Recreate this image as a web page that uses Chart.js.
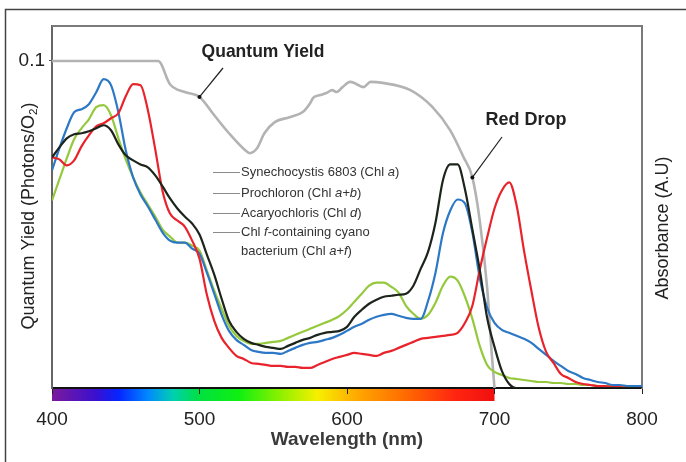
<!DOCTYPE html>
<html>
<head>
<meta charset="utf-8">
<script src="https://cdn.jsdelivr.net/npm/chart.js@4.4.0/dist/chart.umd.min.js"></script>
<style>
  html, body { margin: 0; padding: 0; background: #fff; }
</style>
</head>
<body>
<canvas id="chart" width="686" height="462"></canvas>
<script>
// Absorbance spectra, every 5 nm (arbitrary units, 0..361)
const wavelengths = [];
for (let w = 400; w <= 800; w += 5) wavelengths.push(w);

const synechocystis = [ // Chl a (yellow-green)
  187,208,229,248,259,268,280,282,272,249,
  228,210,195,183,171,158,151,145,145,142,
  137,117,97,79,62,52,47,44,44,45,
  46,47,50,53,56,59,62,65,68,72,
  78,86,94,102,105,105,101,95,82,74,
  69,73,85,102,111,107,91,69,42,23,
  16,13,10,9,8,7,6,6,5,5,
  4,4,3,3,2,2,2,1,1,1,1
];
const prochloron = [ // Chl a+b (black)
  230,240,249,253,254,256,259,262,257,243,
  232,227,223,220,212,201,189,179,171,164,
  153,133,113,89,67,56,49,45,43,41,
  40,39,42,45,48,50,53,55,56,57,
  61,71,78,84,88,91,92,93,94,102,
  119,136,165,207,223,223,198,158,118,70,
  41,17,4,0,0,0,0,0,0,0,
  0,0,0,0,0,0,0,0,0,0,0
];
const acaryochloris = [ // Chl d (red)
  230,228,222,227,241,252,261,264,269,274,
  291,303,302,277,238,196,174,167,161,147,
  129,93,67,50,40,32,29,25,24,23,
  22,22,21,21,20,20,23,26,29,31,
  33,35,34,33,32,35,37,40,43,46,
  49,50,51,52,53,55,65,82,118,150,
  179,197,205,182,137,97,60,36,25,14,
  10,6,4,3,2,2,1,1,0,0,0
];
const chlFBacterium = [ // Chl a+f (blue)
  217,239,259,275,278,283,295,308,302,275,
  237,210,193,181,168,155,147,145,145,139,
  134,115,94,73,57,48,43,38,36,35,
  35,34,37,40,43,45,46,48,50,53,
  57,61,64,68,71,73,74,72,70,69,
  69,87,115,154,177,188,184,155,110,80,
  65,58,55,52,49,45,39,33,27,22,
  17,14,10,8,6,5,3,3,2,2,2
];

// Quantum yield (photons/O2), grey curve
const qyWavelengths = [400,472,480,490,500,510,520,531,534,539,544,551,561,570,575,577,582,586,590,593,597,602,605,611,616,624,643,658,670,679,685,690,695,698,700];
const qyValues = [0.100,0.100,0.0929,0.0905,0.0890,0.0834,0.0779,0.0727,0.0718,0.0733,0.0779,0.0813,0.0828,0.0844,0.0871,0.0887,0.0896,0.0902,0.0911,0.0905,0.0920,0.0936,0.0933,0.0920,0.0936,0.0933,0.0911,0.0859,0.0788,0.0706,0.0644,0.0512,0.0307,0.0113,0];

const xTicks = [400, 500, 600, 700, 800];
const qyTicks = [0.1];

// visible spectrum strip under the axis
const spectrumStops = [
  [400,'#7a1a9c'],[430,'#3a10d0'],[445,'#0624ff'],[465,'#0088ff'],[482,'#00d0b0'],
  [500,'#00e040'],[527,'#10f010'],[554,'#8af000'],[580,'#f6f000'],[607,'#ffa800'],
  [640,'#ff6a00'],[674,'#ff2410'],[700,'#f01010']
];

const legendLines = [
  [{t:'Synechocystis 6803 (Chl '},{t:'a',i:true},{t:')'}],
  [{t:'Prochloron (Chl '},{t:'a+b',i:true},{t:')'}],
  [{t:'Acaryochloris (Chl '},{t:'d',i:true},{t:')'}],
  [{t:'Chl '},{t:'f',i:true},{t:'-containing cyano'}],
  [{t:'bacterium (Chl '},{t:'a+f',i:true},{t:')'}]
];

const FONT = "'Liberation Sans', Arial, Helvetica, sans-serif";
Chart.defaults.font.family = FONT;

function drawText(ctx, parts, x, y, o) {
  ctx.save();
  ctx.translate(x, y);
  if (o.rotate) ctx.rotate(o.rotate);
  ctx.scale(o.sx || 1, o.sy || 1);
  ctx.fillStyle = o.color || '#222';
  ctx.textBaseline = 'middle';
  const fontFor = p => `${p.i ? 'italic ' : ''}${o.weight || 'normal'} ${p.sub ? o.size * 0.65 : o.size}px ${FONT}`;
  let total = 0;
  parts.forEach(p => { ctx.font = fontFor(p); total += ctx.measureText(p.t).width; });
  let cx = o.align === 'left' ? 0 : -total / 2;
  parts.forEach(p => {
    ctx.font = fontFor(p);
    ctx.fillText(p.t, cx, p.sub ? o.size * 0.28 : 0);
    cx += ctx.measureText(p.t).width;
  });
  ctx.restore();
}

const toPoints = arr => wavelengths.map((w, i) => ({ x: w, y: arr[i] }));

const decorations = {
  id: 'decorations',
  beforeDraw(chart) {
    const { ctx, chartArea, scales } = chart;
    ctx.save();
    ctx.fillStyle = '#fff';
    ctx.fillRect(0, 0, chart.width, chart.height);
    // outer frame
    ctx.strokeStyle = '#444';
    ctx.lineWidth = 1.5;
    ctx.beginPath();
    ctx.moveTo(5.5, chart.height);
    ctx.lineTo(5.5, 9.5);
    ctx.lineTo(chart.width, 9.5);
    ctx.stroke();
    // spectrum strip
    const x0 = scales.x.getPixelForValue(400);
    const x1 = scales.x.getPixelForValue(700);
    const grad = ctx.createLinearGradient(x0, 0, x1, 0);
    spectrumStops.forEach(([w, c]) => grad.addColorStop((w - 400) / 300, c));
    ctx.fillStyle = grad;
    ctx.fillRect(x0, chartArea.bottom, x1 - x0, 13);
    ctx.restore();
  },
  afterDraw(chart) {
    const { ctx, chartArea, scales } = chart;
    ctx.save();
    // top border of plot
    ctx.strokeStyle = '#7a7a7a';
    ctx.lineWidth = 2;
    ctx.beginPath();
    ctx.moveTo(chartArea.left, chartArea.top);
    ctx.lineTo(chartArea.right, chartArea.top);
    ctx.stroke();

    // legend
    const ly = [172, 193, 213, 232, 251];
    legendLines.forEach((parts, i) => {
      if (i < 4) {
        ctx.strokeStyle = '#8a8a8a';
        ctx.lineWidth = 1;
        ctx.beginPath();
        ctx.moveTo(213, ly[i] + 0.5);
        ctx.lineTo(240, ly[i] + 0.5);
        ctx.stroke();
      }
      drawText(ctx, parts, 241, ly[i], { size: 13, align: 'left', color: '#333', sy: 1.05 });
    });

    // annotations with arrows pointing at the quantum-yield curve
    const arrow = (w, tx, ty) => {
      const k = qyWavelengths.indexOf(w);
      const px = scales.x.getPixelForValue(w);
      const py = scales.y.getPixelForValue(qyValues[k]);
      ctx.strokeStyle = '#222';
      ctx.lineWidth = 1.2;
      ctx.beginPath();
      ctx.moveTo(tx, ty);
      ctx.lineTo(px, py);
      ctx.stroke();
      ctx.fillStyle = '#111';
      ctx.beginPath();
      ctx.arc(px, py, 2, 0, Math.PI * 2);
      ctx.fill();
    };
    arrow(500, 223, 68);
    arrow(685, 502, 137);
    drawText(ctx, [{t:'Quantum Yield'}], 263, 52, { size: 17.5, weight: 'bold', color: '#222', sy: 1.05 });
    drawText(ctx, [{t:'Red Drop'}], 526, 120, { size: 18, weight: 'bold', color: '#222', sy: 1.05 });

    // axis titles
    drawText(ctx, [{t:'Quantum Yield (Photons/O'},{t:'2',sub:true},{t:')'}], 29, 216,
      { size: 18, rotate: -Math.PI / 2, color: '#222' });
    drawText(ctx, [{t:'Absorbance (A.U)'}], 663, 228,
      { size: 18, rotate: -Math.PI / 2, color: '#222' });
    drawText(ctx, [{t:'Wavelength (nm)'}], (chartArea.left + chartArea.right) / 2, 440,
      { size: 19, weight: 'bold', color: '#3a3a3a' });
    ctx.restore();
  }
};

const lineStyle = { pointRadius: 0, borderWidth: 2.2, fill: false, cubicInterpolationMode: 'monotone' };

new Chart(document.getElementById('chart'), {
  type: 'line',
  data: {
    datasets: [
      { ...lineStyle, label: 'Prochloron (Chl a+b)', data: toPoints(prochloron), borderColor: '#1d241c', yAxisID: 'y2' },
      { ...lineStyle, label: 'Acaryochloris (Chl d)', data: toPoints(acaryochloris), borderColor: '#e8232b', yAxisID: 'y2' },
      { ...lineStyle, label: 'Chl f-containing cyanobacterium (Chl a+f)', data: toPoints(chlFBacterium), borderColor: '#2d78c6', yAxisID: 'y2' },
      { ...lineStyle, label: 'Synechocystis 6803 (Chl a)', data: toPoints(synechocystis), borderColor: '#95c93d', yAxisID: 'y2' },
      { ...lineStyle, label: 'Quantum Yield', borderWidth: 2.6, borderColor: '#b3b3b3', yAxisID: 'y',
        data: qyWavelengths.map((w, i) => ({ x: w, y: qyValues[i] })) }
    ]
  },
  options: {
    responsive: false,
    animation: false,
    devicePixelRatio: 1,
    layout: { padding: { top: 26, left: 0, right: 0, bottom: 0 } },
    plugins: { legend: { display: false }, tooltip: { enabled: false } },
    scales: {
      x: {
        type: 'linear', min: 400, max: 800,
        afterBuildTicks: s => { s.ticks = xTicks.map(v => ({ value: v })); },
        afterFit: s => { s.height = 74; },
        ticks: { font: { size: 19 }, color: '#222', padding: 14, maxRotation: 0 },
        grid: { drawOnChartArea: false, tickLength: 6, color: '#222' },
        border: { color: '#111', width: 2 }
      },
      y: {
        position: 'left', min: 0, max: 0.1107,
        afterBuildTicks: s => { s.ticks = qyTicks.map(v => ({ value: v })); },
        afterFit: s => { s.width = 52; },
        ticks: { font: { size: 19 }, color: '#222', padding: 4, callback: v => String(v) },
        grid: { drawOnChartArea: false, tickLength: 3, color: '#555' },
        border: { color: '#666', width: 2 }
      },
      y2: {
        position: 'right', min: 0, max: 361,
        afterFit: s => { s.width = 44; },
        ticks: { display: false },
        grid: { drawOnChartArea: false, drawTicks: false },
        border: { color: '#7a7a7a', width: 2 }
      }
    }
  },
  plugins: [decorations]
});
</script>
</body>
</html>
